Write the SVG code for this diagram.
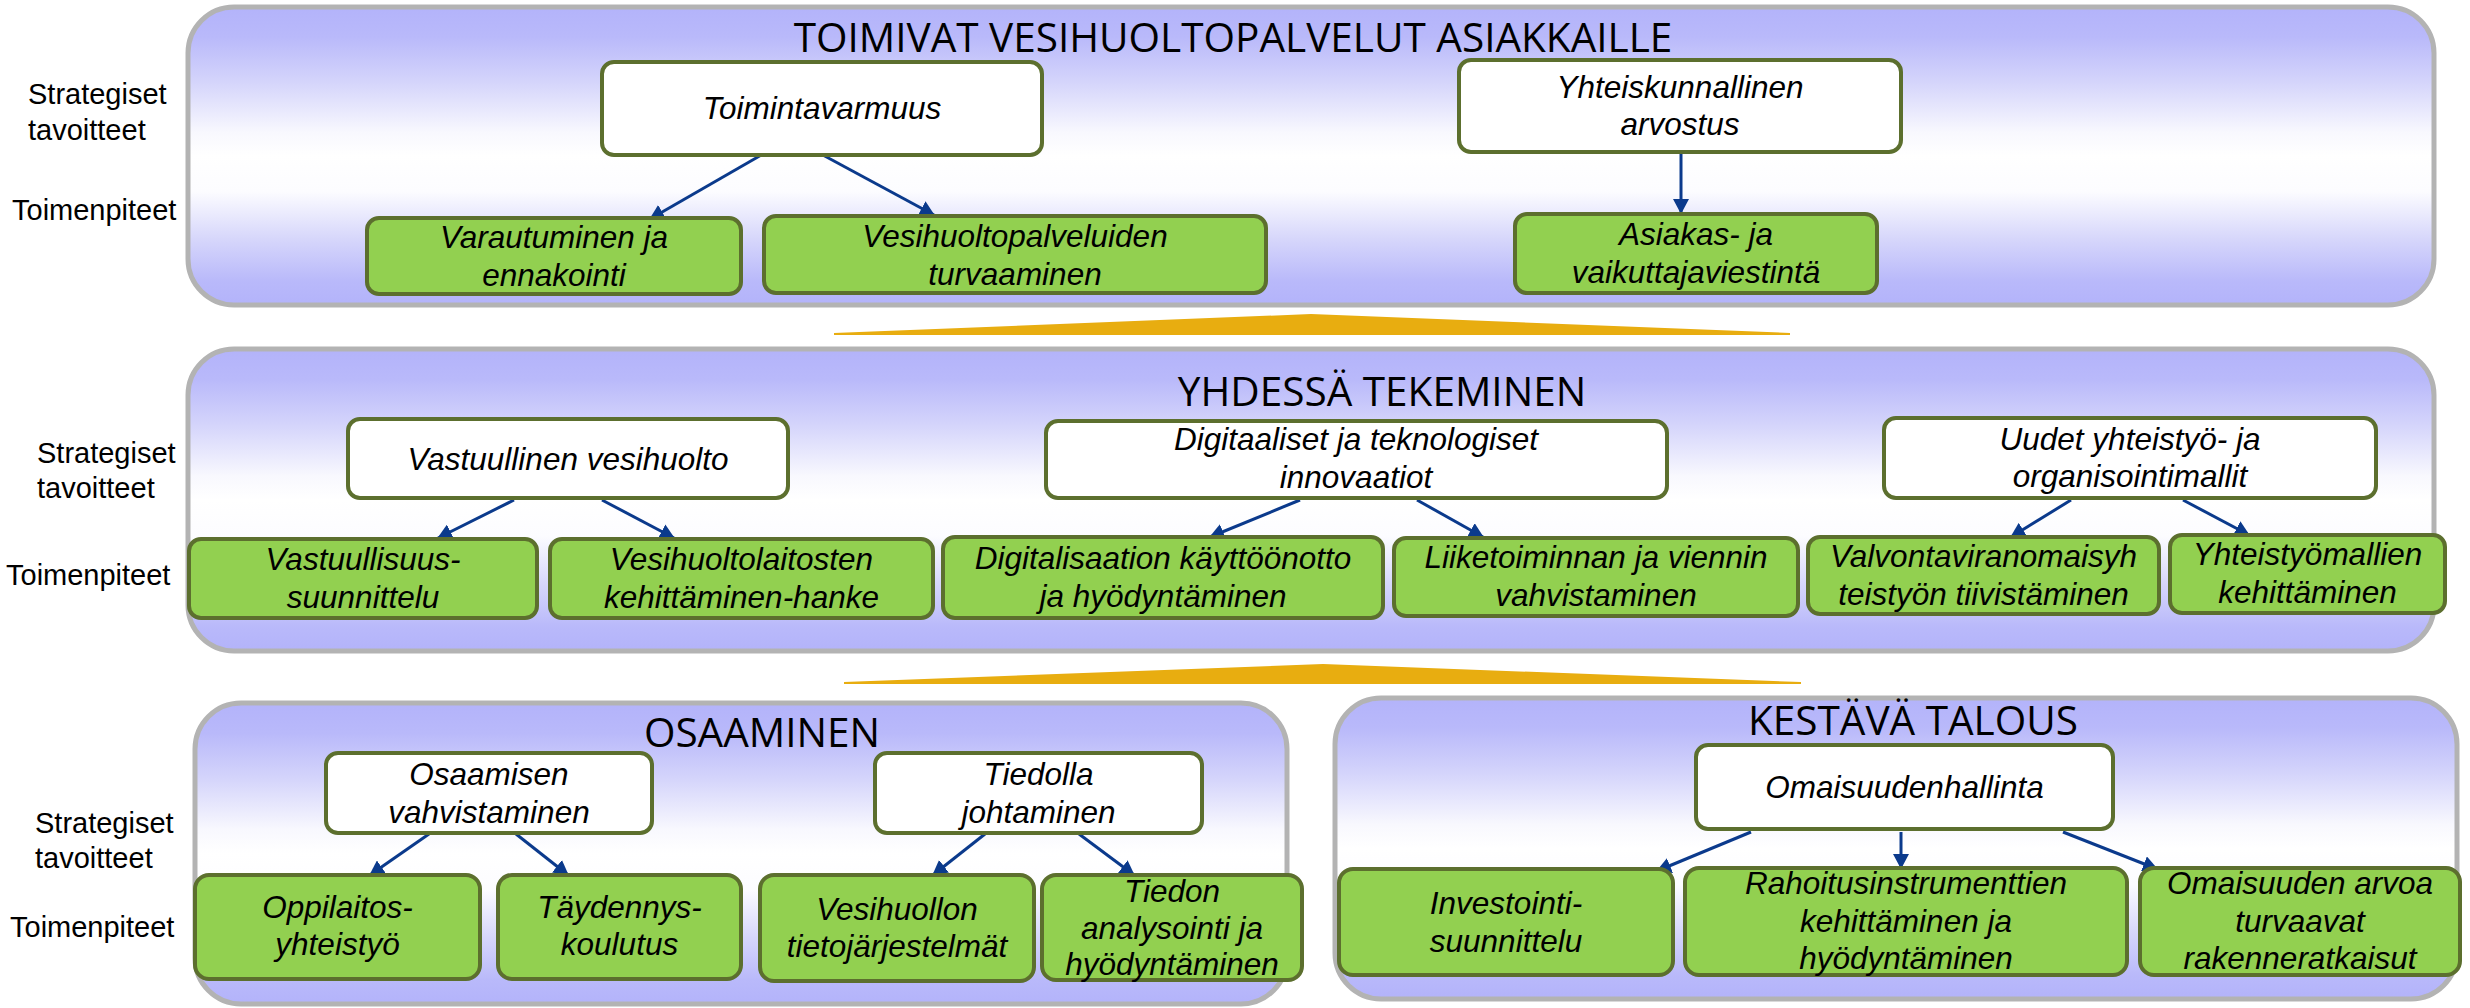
<svg xmlns="http://www.w3.org/2000/svg" width="2470" height="1008" viewBox="0 0 2470 1008">
<defs>
<linearGradient id="pg" x1="0" y1="0" x2="0" y2="1">
<stop offset="0" stop-color="#b3b3fa"/>
<stop offset="0.1" stop-color="#b9b9fa"/>
<stop offset="0.25" stop-color="#d4d4fb"/>
<stop offset="0.42" stop-color="#f8f8fe"/>
<stop offset="0.5" stop-color="#ffffff"/>
<stop offset="0.62" stop-color="#fcfcff"/>
<stop offset="0.78" stop-color="#d6d6fb"/>
<stop offset="0.92" stop-color="#b9b9fa"/>
<stop offset="1" stop-color="#b3b3fa"/>
</linearGradient>
<marker id="ah" markerUnits="userSpaceOnUse" markerWidth="16" markerHeight="16" refX="14" refY="8" orient="auto">
<path d="M0,0 L15,8 L0,16 z" fill="#0b3a8c"/>
</marker>
<style>
.panel{fill:url(#pg);stroke:#b3b3b3;stroke-width:5}
.title{font-family:"Open Sans","Liberation Sans",sans-serif;font-size:40.5px;fill:#000;text-anchor:middle}
.lbl{font-family:"Liberation Sans",Arial,sans-serif;font-size:29px;fill:#000}
.w{fill:#ffffff;stroke:#5c6f2e;stroke-width:4}
.g{fill:#92d050;stroke:#5c6f2e;stroke-width:4}
.t{font-family:"Liberation Sans",Arial,sans-serif;font-style:italic;font-size:31.5px;fill:#000;text-anchor:middle}
.c{stroke:#0b3a8c;stroke-width:3;fill:none;marker-end:url(#ah)}
.wedge{fill:#e8ad10}
</style>
</defs>
<rect width="2470" height="1008" fill="#ffffff"/>

<g id="panel-toimivat">
<rect class="panel" x="188" y="7" width="2246" height="298" rx="46" ry="46"/>
<text class="title" x="1233" y="52">TOIMIVAT VESIHUOLTOPALVELUT ASIAKKAILLE</text>
<text class="lbl" x="28" y="104">Strategiset</text>
<text class="lbl" x="28" y="140">tavoitteet</text>
<text class="lbl" x="12" y="220">Toimenpiteet</text>
</g>
<polygon id="wedge1" class="wedge" points="834,333 1311,314 1790,333 1790,335 834,335"/>
<g id="panel-yhdessa">
<rect class="panel" x="188" y="349" width="2246" height="302" rx="46" ry="46"/>
<text class="title" x="1382" y="406">YHDESSÄ TEKEMINEN</text>
<text class="lbl" x="37" y="463">Strategiset</text>
<text class="lbl" x="37" y="498">tavoitteet</text>
<text class="lbl" x="6" y="585">Toimenpiteet</text>
</g>
<polygon id="wedge2" class="wedge" points="844,682 1323,664 1801,682 1801,684 844,684"/>
<g id="panel-osaaminen">
<rect class="panel" x="195" y="703" width="1092" height="301" rx="46" ry="46"/>
<text class="title" x="762" y="747">OSAAMINEN</text>
<text class="lbl" x="35" y="833">Strategiset</text>
<text class="lbl" x="35" y="868">tavoitteet</text>
<text class="lbl" x="10" y="937">Toimenpiteet</text>
</g>
<g id="panel-kestava">
<rect class="panel" x="1335" y="698" width="1122" height="301" rx="46" ry="46"/>
<text class="title" x="1913" y="735">KESTÄVÄ TALOUS</text>
</g>

<g id="connectors">
<path class="c" d="M763,154 L650,219"/>
<path class="c" d="M821,154 L934,215"/>
<path class="c" d="M1681,153 L1681,213"/>
<path class="c" d="M514,500 L438,538"/>
<path class="c" d="M602,500 L674,538"/>
<path class="c" d="M1300,500 L1210,537"/>
<path class="c" d="M1417,500 L1483,537"/>
<path class="c" d="M2071,500 L2011,537"/>
<path class="c" d="M2183,500 L2249,535"/>
<path class="c" d="M429,834 L370,875"/>
<path class="c" d="M516,834 L568,875"/>
<path class="c" d="M985,834 L933,875"/>
<path class="c" d="M1079,834 L1134,875"/>
<path class="c" d="M1751,832 L1657,871"/>
<path class="c" d="M1901,832 L1901,868"/>
<path class="c" d="M2063,832 L2157,869"/>
</g>

<g id="n-toimintavarmuus"><rect class="w" x="602" y="62" width="440" height="93" rx="12"/><text class="t" x="822" y="119">Toimintavarmuus</text></g>
<g id="n-yhteiskunnallinen"><rect class="w" x="1459" y="60" width="442" height="92" rx="12"/><text class="t" x="1680" y="98">Yhteiskunnallinen</text><text class="t" x="1680" y="135">arvostus</text></g>
<g id="n-varautuminen"><rect class="g" x="367" y="218" width="374" height="76" rx="12"/><text class="t" x="554" y="248">Varautuminen ja</text><text class="t" x="554" y="286">ennakointi</text></g>
<g id="n-vesihuoltopalveluiden"><rect class="g" x="764" y="216" width="502" height="77" rx="12"/><text class="t" x="1015" y="247">Vesihuoltopalveluiden</text><text class="t" x="1015" y="285">turvaaminen</text></g>
<g id="n-asiakas"><rect class="g" x="1515" y="214" width="362" height="79" rx="12"/><text class="t" x="1696" y="245">Asiakas- ja</text><text class="t" x="1696" y="283">vaikuttajaviestintä</text></g>

<g id="n-vastuullinen"><rect class="w" x="348" y="419" width="440" height="79" rx="12"/><text class="t" x="568" y="470">Vastuullinen vesihuolto</text></g>
<g id="n-digitaaliset"><rect class="w" x="1046" y="421" width="621" height="77" rx="12"/><text class="t" x="1356" y="450">Digitaaliset ja teknologiset</text><text class="t" x="1356" y="488">innovaatiot</text></g>
<g id="n-uudet"><rect class="w" x="1884" y="418" width="492" height="80" rx="12"/><text class="t" x="2130" y="450">Uudet yhteistyö- ja</text><text class="t" x="2130" y="487">organisointimallit</text></g>
<g id="n-vastuullisuus"><rect class="g" x="189" y="539" width="348" height="79" rx="12"/><text class="t" x="363" y="570">Vastuullisuus-</text><text class="t" x="363" y="608">suunnittelu</text></g>
<g id="n-vesihuoltolaitosten"><rect class="g" x="550" y="539" width="383" height="79" rx="12"/><text class="t" x="741.5" y="570">Vesihuoltolaitosten</text><text class="t" x="741.5" y="608">kehittäminen-hanke</text></g>
<g id="n-digitalisaation"><rect class="g" x="943" y="537" width="440" height="81" rx="12"/><text class="t" x="1163" y="569">Digitalisaation käyttöönotto</text><text class="t" x="1163" y="607">ja hyödyntäminen</text></g>
<g id="n-liiketoiminnan"><rect class="g" x="1394" y="538" width="404" height="78" rx="12"/><text class="t" x="1596" y="568">Liiketoiminnan ja viennin</text><text class="t" x="1596" y="606">vahvistaminen</text></g>
<g id="n-valvonta"><rect class="g" x="1808" y="537" width="351" height="77" rx="12"/><text class="t" x="1983.5" y="567">Valvontaviranomaisyh</text><text class="t" x="1983.5" y="605">teistyön tiivistäminen</text></g>
<g id="n-yhteistyomallien"><rect class="g" x="2170" y="535" width="275" height="78" rx="12"/><text class="t" x="2307.5" y="565">Yhteistyömallien</text><text class="t" x="2307.5" y="603">kehittäminen</text></g>

<g id="n-osaamisen"><rect class="w" x="326" y="753" width="326" height="80" rx="12"/><text class="t" x="489" y="785">Osaamisen</text><text class="t" x="489" y="823">vahvistaminen</text></g>
<g id="n-tiedolla"><rect class="w" x="875" y="753" width="327" height="80" rx="12"/><text class="t" x="1038.5" y="785">Tiedolla</text><text class="t" x="1038.5" y="823">johtaminen</text></g>
<g id="n-oppilaitos"><rect class="g" x="195" y="875" width="285" height="104" rx="14"/><text class="t" x="337.5" y="918">Oppilaitos-</text><text class="t" x="337.5" y="955">yhteistyö</text></g>
<g id="n-taydennys"><rect class="g" x="498" y="875" width="243" height="104" rx="14"/><text class="t" x="619.5" y="918">Täydennys-</text><text class="t" x="619.5" y="955">koulutus</text></g>
<g id="n-vesihuollon"><rect class="g" x="760" y="875" width="274" height="106" rx="14"/><text class="t" x="897" y="920">Vesihuollon</text><text class="t" x="897" y="957">tietojärjestelmät</text></g>
<g id="n-tiedon"><rect class="g" x="1042" y="875" width="260" height="105" rx="14"/><text class="t" x="1172" y="902">Tiedon</text><text class="t" x="1172" y="939">analysointi ja</text><text class="t" x="1172" y="975">hyödyntäminen</text></g>

<g id="n-omaisuudenhallinta"><rect class="w" x="1696" y="745" width="417" height="84" rx="12"/><text class="t" x="1904.5" y="798">Omaisuudenhallinta</text></g>
<g id="n-investointi"><rect class="g" x="1339" y="869" width="334" height="106" rx="14"/><text class="t" x="1506" y="914">Investointi-</text><text class="t" x="1506" y="952">suunnittelu</text></g>
<g id="n-rahoitus"><rect class="g" x="1685" y="868" width="442" height="107" rx="14"/><text class="t" x="1906" y="894">Rahoitusinstrumenttien</text><text class="t" x="1906" y="932">kehittäminen ja</text><text class="t" x="1906" y="969">hyödyntäminen</text></g>
<g id="n-omaisuuden"><rect class="g" x="2140" y="868" width="320" height="107" rx="14"/><text class="t" x="2300" y="894">Omaisuuden arvoa</text><text class="t" x="2300" y="932">turvaavat</text><text class="t" x="2300" y="969">rakenneratkaisut</text></g>
</svg>
